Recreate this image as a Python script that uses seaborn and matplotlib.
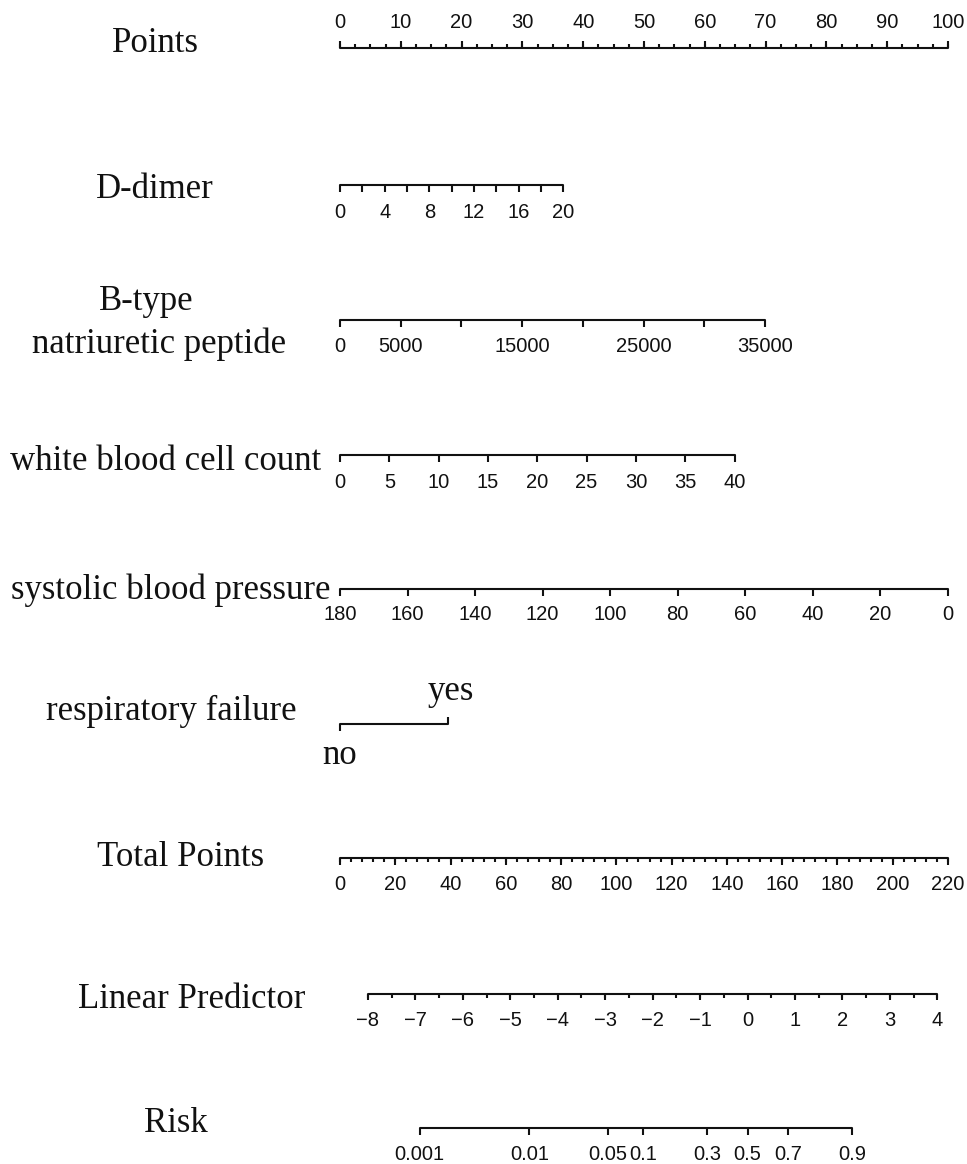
import numpy as np
import pandas as pd
import matplotlib
matplotlib.use("Agg")
import matplotlib.pyplot as plt
import seaborn as sns

# ---- model scales (values in points units, 0-100) ----
points_major = np.arange(0, 101, 10)
points_minor = np.arange(0, 100.01, 2.5)

ddimer_ticks = np.arange(0, 21, 2)
ddimer_labels = [0, 4, 8, 12, 16, 20]
ddimer_max = 20
ddimer_max_points = 36.7

bnp_ticks = np.arange(0, 35001, 5000)
bnp_labels = [0, 5000, 15000, 25000, 35000]
bnp_max = 35000
bnp_max_points = 69.9

wbc_ticks = np.arange(0, 41, 5)
wbc_labels = [0, 5, 10, 15, 20, 25, 30, 35, 40]
wbc_max = 40
wbc_max_points = 64.9

sbp_ticks = np.arange(180, -1, -20)
sbp_labels = [180, 160, 140, 120, 100, 80, 60, 40, 20, 0]
sbp_max = 180
sbp_zero_points = 100.0

resp_levels = ["no", "yes"]
resp_points = [0.0, 17.8]

total_major = np.arange(0, 221, 20)
total_minor = np.arange(0, 220.01, 4)
total_max = 220

lp_major = np.arange(-8, 5, 1)
lp_minor = np.arange(-8, 4.01, 0.5)
lp_at_zero_total = -8.0      # linear predictor reference value
lp_zero_total_points = 10.1  # total points where it sits
total_points_per_lp = 17.17

risk_labels = [0.001, 0.01, 0.05, 0.1, 0.3, 0.5, 0.7, 0.9]

# ---- conversions to the shared points axis ----
def tp_to_axis(tp):
    return np.asarray(tp, dtype=float) * 100.0 / total_max

def lp_to_axis(lp):
    tp = lp_zero_total_points + (np.asarray(lp, dtype=float) - lp_at_zero_total) * total_points_per_lp
    return tp_to_axis(tp)

def risk_to_axis(p):
    p = np.asarray(p, dtype=float)
    return lp_to_axis(np.log(p / (1 - p)))

# ---- figure ----
sns.set_theme(style="white")
plt.rcParams["font.family"] = ["Liberation Sans", "DejaVu Sans"]

W, H = 967, 1164
fig = plt.figure(figsize=(W / 100, H / 100), dpi=100)
ax = fig.add_axes([0, 0, 1, 1])
px_per_point = 6.08
x0_px = 340
ax.set_xlim(-x0_px / px_per_point, (W - x0_px) / px_per_point)
ax.set_ylim(H, 0)
ax.axis("off")

INK = "#111111"
LW = 1.5
SERIF = ["Liberation Serif", "DejaVu Serif"]
TITLE_FS = 25
TICK_FS = 14.5


def scale_line(x_start, x_end, y):
    df = pd.DataFrame({"x": [x_start, x_end], "y": [y, y]})
    sns.lineplot(data=df, x="x", y="y", ax=ax, color=INK, lw=LW,
                 sort=False, estimator=None, legend=False)


def ticks(xs, y, length):
    ax.vlines(xs, y, y + length, color=INK, lw=LW)


def tick_labels(xs, texts, y):
    for x, t in zip(xs, texts):
        ax.text(x, y, t, ha="center", va="center", fontsize=TICK_FS, color=INK)


def title(text, x_px, y):
    ax.text((x_px - x0_px) / px_per_point, y, text, ha="center", va="center",
            fontsize=TITLE_FS, family=SERIF, color=INK)


# Points
y = 48
scale_line(0, 100, y)
ticks(points_minor, y, -4)
ticks(points_major, y, -7)
tick_labels(points_major, [str(v) for v in points_major], 22)
title("Points", 155, 43)

# D-dimer
y = 185
scale_line(0, ddimer_max_points, y)
ticks(ddimer_ticks / ddimer_max * ddimer_max_points, y, 7)
tick_labels(np.array(ddimer_labels) / ddimer_max * ddimer_max_points,
            [str(v) for v in ddimer_labels], 212)
title("D-dimer", 155, 189)

# B-type natriuretic peptide
y = 320
scale_line(0, bnp_max_points, y)
ticks(bnp_ticks / bnp_max * bnp_max_points, y, 7)
tick_labels(np.array(bnp_labels) / bnp_max * bnp_max_points,
            [str(v) for v in bnp_labels], 347)
title("B-type", 146, 301)
title("natriuretic peptide", 159, 344)

# White blood cell count
y = 455
scale_line(0, wbc_max_points, y)
ticks(wbc_ticks / wbc_max * wbc_max_points, y, 7)
tick_labels(np.array(wbc_labels) / wbc_max * wbc_max_points,
            [str(v) for v in wbc_labels], 482)
title("white blood cell count", 166, 462)

# Systolic blood pressure (reversed)
y = 589
def sbp_axis(v):
    return (sbp_max - np.asarray(v, dtype=float)) / sbp_max * sbp_zero_points
scale_line(sbp_axis(sbp_max), sbp_axis(0), y)
ticks(sbp_axis(sbp_ticks), y, 7)
tick_labels(sbp_axis(sbp_labels), [str(v) for v in sbp_labels], 615)
title("systolic blood pressure", 171, 590)

# Respiratory failure
y = 724
scale_line(resp_points[0], resp_points[1], y)
ticks([resp_points[0]], y, 7)
ticks([resp_points[1]], y, -7)
ax.text(resp_points[0], 755, resp_levels[0], ha="center", va="center",
        fontsize=TITLE_FS, family=SERIF, color=INK)
ax.text(resp_points[1] + 0.4, 692, resp_levels[1], ha="center", va="center",
        fontsize=TITLE_FS, family=SERIF, color=INK)
title("respiratory failure", 171, 711)

# Total Points
y = 858
scale_line(tp_to_axis(0), tp_to_axis(total_max), y)
ticks(tp_to_axis(total_minor), y, 4)
ticks(tp_to_axis(total_major), y, 7)
tick_labels(tp_to_axis(total_major), [str(v) for v in total_major], 885)
title("Total Points", 181, 858)

# Linear Predictor
y = 994
scale_line(lp_to_axis(lp_major[0]), lp_to_axis(lp_major[-1]), y)
ticks(lp_to_axis(lp_minor), y, 4)
ticks(lp_to_axis(lp_major), y, 6)
tick_labels(lp_to_axis(lp_major), [str(v).replace("-", "\u2212") for v in lp_major], 1020)
title("Linear Predictor", 192, 999)

# Risk
y = 1128
scale_line(risk_to_axis(risk_labels[0]), risk_to_axis(risk_labels[-1]), y)
ticks(risk_to_axis(risk_labels), y, 7)
tick_labels(risk_to_axis(risk_labels), [f"{v:g}" for v in risk_labels], 1155)
title("Risk", 176, 1124)

fig.savefig("out.png", dpi=100, facecolor="white")
